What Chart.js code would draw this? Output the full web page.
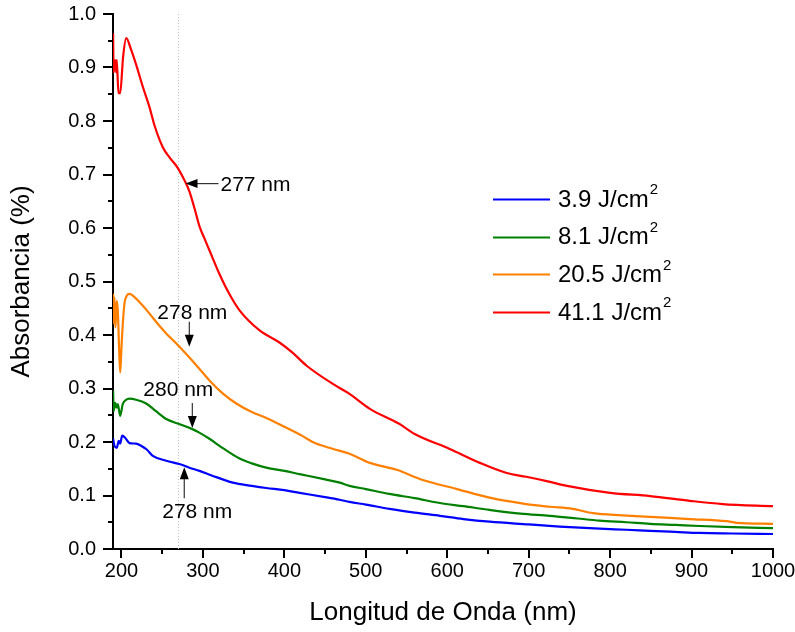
<!DOCTYPE html>
<html><head><meta charset="utf-8">
<script src="https://cdn.jsdelivr.net/npm/chart.js@4/dist/chart.umd.min.js"></script>
<style>html,body{margin:0;padding:0;background:#fff}#wrap{width:795px;height:632px;position:relative}</style>
</head><body><div id="wrap"><canvas id="c" width="795" height="632"></canvas></div>
<script>
// ---------- data ----------
const seriesLabels = ['3.9 J/cm', '8.1 J/cm', '20.5 J/cm', '41.1 J/cm'];
const seriesColors = ['#0000FF', '#008000', '#FF8000', '#FF0000'];

const nmBlue  = [189.7,191.4,194.2,196.7,198.4,200.9,205,209.8,218,224,231,238.5,255,271,283.5,295.8,310,336.7,360,377.8,400,418.7,450,468,480,500,529,560,591,620,652,700,738,787,820,849,880,910,950,1000];
const absBlue = [0.206,0.193,0.189,0.202,0.197,0.212,0.207,0.198,0.197,0.193,0.186,0.174,0.165,0.159,0.152,0.146,0.138,0.124,0.118,0.114,0.110,0.105,0.097,0.092,0.088,0.083,0.075,0.068,0.062,0.056,0.051,0.046,0.042,0.038,0.036,0.034,0.032,0.030,0.029,0.028];

const nmGreen  = [189.7,190.5,192.3,194.2,195.5,198.4,201.6,205,209.8,218,230.3,242,255,270,285.6,295,308,325,345,360,377.8,400,418.7,450,468,480,500,529,560,591,620,652,690,726,760,787,820,849,880,910,950,1000];
const absGreen = [0.296,0.258,0.273,0.264,0.271,0.249,0.271,0.278,0.281,0.279,0.272,0.258,0.243,0.234,0.225,0.218,0.206,0.188,0.169,0.160,0.152,0.146,0.140,0.130,0.124,0.118,0.112,0.103,0.095,0.086,0.080,0.073,0.066,0.062,0.057,0.053,0.050,0.047,0.045,0.043,0.041,0.039];

const nmOrange  = [189.7,190.4,191.4,192.6,194.2,195.5,197,198.4,199.5,200.9,203.7,206,209.8,218,226,234.4,245,254.9,268,281.5,295,308,325,341,360,377.8,402,420,439,460,480,505,538,570,612,652,697,726,754,779,815,849,898,943,955,1000];
const absOrange = [0.477,0.421,0.470,0.414,0.464,0.446,0.380,0.330,0.360,0.403,0.459,0.472,0.477,0.468,0.455,0.440,0.420,0.403,0.383,0.361,0.338,0.315,0.290,0.272,0.256,0.245,0.227,0.213,0.197,0.187,0.178,0.161,0.148,0.129,0.112,0.096,0.084,0.079,0.075,0.067,0.063,0.060,0.056,0.052,0.049,0.047];

const nmRed  = [189.7,190.4,192.3,193.5,194.2,196.3,198.4,202,205.8,211.9,218.1,226.2,234.4,240.5,250.7,259,269.2,277.4,283.5,290,295.8,302,308.1,320,332,345,370,394,410,427,459,480,505,541,560,603,640,673,697,722,747,800,849,898,938,1000];
const absRed = [0.964,0.891,0.914,0.891,0.914,0.852,0.852,0.920,0.955,0.933,0.905,0.864,0.826,0.792,0.751,0.732,0.712,0.689,0.668,0.635,0.603,0.580,0.558,0.515,0.478,0.446,0.408,0.386,0.367,0.343,0.309,0.290,0.262,0.234,0.215,0.187,0.161,0.142,0.135,0.127,0.118,0.105,0.099,0.090,0.084,0.080];

const xTickValues = [200,250,300,350,400,450,500,550,600,650,700,750,800,850,900,950,1000];
const yTickValues = [0,0.05,0.1,0.15,0.2,0.25,0.3,0.35,0.4,0.45,0.5,0.55,0.6,0.65,0.7,0.75,0.8,0.85,0.9,0.95,1.0];
const refLineNm = 270;

const annotNm     = [278.6, 283.3, 287.0, 277.1];
const annotAbs    = [0.683, 0.378, 0.226, 0.153];
const annotLabels = ['277 nm', '278 nm', '280 nm', '278 nm'];

// ---------- helpers ----------
const FONT = '"Liberation Sans", Arial, Helvetica, sans-serif';
function pts(xs, ys) { return xs.map((x, i) => ({ x: x, y: ys[i] })); }
const allX = [nmBlue, nmGreen, nmOrange, nmRed];
const allY = [absBlue, absGreen, absOrange, absRed];

const datasets = seriesLabels.map((lab, i) => ({
  label: lab,
  data: pts(allX[i], allY[i]),
  borderColor: seriesColors[i],
  backgroundColor: seriesColors[i],
  borderWidth: 2.2,
  pointRadius: 0,
  showLine: true,
  cubicInterpolationMode: 'monotone',
  fill: false
}));

// ---------- plugin: ticks, ref line, annotations, legend ----------
const decor = {
  id: 'decor',
  beforeDatasetsDraw(chart) {
    const ctx = chart.ctx, xs = chart.scales.x, a = chart.chartArea;
    const px = xs.getPixelForValue(refLineNm);
    ctx.save();
    ctx.strokeStyle = '#c4c4c4';
    ctx.lineWidth = 1;
    ctx.setLineDash([1, 2]);
    ctx.beginPath();
    ctx.moveTo(Math.round(px) + 0.5, a.top);
    ctx.lineTo(Math.round(px) + 0.5, a.bottom);
    ctx.stroke();
    ctx.restore();
  },
  afterDraw(chart) {
    const ctx = chart.ctx, xs = chart.scales.x, ys = chart.scales.y, a = chart.chartArea;
    ctx.save();
    // ticks (outward)
    ctx.strokeStyle = '#000';
    ctx.lineWidth = 2;
    ctx.beginPath();
    xTickValues.forEach(v => {
      const p = Math.round(xs.getPixelForValue(v));
      const len = (v % 100 === 0) ? 9 : 5;
      ctx.moveTo(p, a.bottom); ctx.lineTo(p, a.bottom + len);
    });
    yTickValues.forEach((v, i) => {
      const p = Math.round(ys.getPixelForValue(v));
      const len = (i % 2 === 0) ? 10 : 5;
      ctx.moveTo(a.left, p); ctx.lineTo(a.left - len, p);
    });
    ctx.stroke();

    // annotations
    ctx.fillStyle = '#000';
    ctx.strokeStyle = '#333';
    ctx.lineWidth = 1.2;
    ctx.font = '21px ' + FONT;
    ctx.textBaseline = 'middle';
    const dirs = ['left', 'down', 'down', 'up'];
    const textOff = [[35, 2], [3, -34], [-14, -38], [13, 45]];
    annotNm.forEach((nm, i) => {
      const tx = xs.getPixelForValue(nm), ty = ys.getPixelForValue(annotAbs[i]);
      const d = dirs[i];
      ctx.beginPath();
      if (d === 'left') {
        ctx.moveTo(tx + 33, ty); ctx.lineTo(tx + 8, ty);
      } else if (d === 'down') {
        ctx.moveTo(tx, ty - 25); ctx.lineTo(tx, ty - 8);
      } else {
        ctx.moveTo(tx, ty + 31); ctx.lineTo(tx, ty + 8);
      }
      ctx.stroke();
      ctx.beginPath();
      if (d === 'left') {
        ctx.moveTo(tx, ty); ctx.lineTo(tx + 12, ty - 4.5); ctx.lineTo(tx + 12, ty + 4.5);
      } else if (d === 'down') {
        ctx.moveTo(tx, ty); ctx.lineTo(tx - 4.5, ty - 12); ctx.lineTo(tx + 4.5, ty - 12);
      } else {
        ctx.moveTo(tx, ty); ctx.lineTo(tx - 4.5, ty + 12); ctx.lineTo(tx + 4.5, ty + 12);
      }
      ctx.closePath();
      ctx.fill();
      ctx.textAlign = d === 'left' ? 'left' : 'center';
      ctx.fillText(annotLabels[i], tx + textOff[i][0], ty + textOff[i][1]);
    });

    // legend
    const lx = 493, ly0 = 199, dy = 37.7;
    chart.data.datasets.forEach((ds, i) => {
      const y = ly0 + i * dy;
      ctx.strokeStyle = ds.borderColor;
      ctx.lineWidth = 2;
      ctx.beginPath();
      ctx.moveTo(lx, Math.round(y) + 0.5); ctx.lineTo(lx + 57, Math.round(y) + 0.5);
      ctx.stroke();
      ctx.fillStyle = '#000';
      ctx.textAlign = 'left';
      ctx.textBaseline = 'middle';
      ctx.font = '24px ' + FONT;
      ctx.fillText(ds.label, lx + 65, y + 1);
      const w = ctx.measureText(ds.label).width;
      ctx.font = '15px ' + FONT;
      ctx.fillText('2', lx + 65 + w + 1, y - 9);
    });
    ctx.restore();
  }
};

new Chart(document.getElementById('c'), {
  type: 'scatter',
  data: { datasets: datasets },
  options: {
    responsive: false,
    animation: false,
    devicePixelRatio: 1,
    layout: { padding: { top: 14, right: 22, left: 0, bottom: 0 } },
    plugins: { legend: { display: false }, tooltip: { enabled: false } },
    scales: {
      x: {
        type: 'linear', position: 'bottom', min: 189.6, max: 1000,
        afterBuildTicks: s => { s.ticks = xTickValues.map(v => ({ value: v })); },
        afterFit: s => { s.height = 83; s.paddingLeft = 0; s.paddingRight = 0; },
        grid: { display: false, drawTicks: false },
        border: { display: true, color: '#000', width: 2 },
        ticks: {
          autoSkip: false, maxRotation: 0, padding: 10, color: '#000',
          font: { family: FONT, size: 20 },
          callback: v => (v % 100 === 0 ? String(v) : '')
        },
        title: { display: true, text: 'Longitud de Onda (nm)', color: '#000',
                 font: { family: FONT, size: 26 }, padding: { top: 0, bottom: 4 } }
      },
      y: {
        type: 'linear', position: 'left', min: 0, max: 1,
        afterBuildTicks: s => { s.ticks = yTickValues.map(v => ({ value: v })); },
        afterFit: s => { s.width = 113; s.paddingTop = 0; s.paddingBottom = 0; },
        grid: { display: false, drawTicks: false },
        border: { display: true, color: '#000', width: 2 },
        ticks: {
          autoSkip: false, padding: 17, color: '#000',
          font: { family: FONT, size: 20 },
          callback: (v, i) => (i % 2 === 0 ? v.toFixed(1) : '')
        },
        title: { display: true, text: 'Absorbancia (%)', color: '#000',
                 font: { family: FONT, size: 26 }, padding: { top: 6, bottom: 0 } }
      }
    }
  },
  plugins: [decor]
});
</script>
</body></html>
